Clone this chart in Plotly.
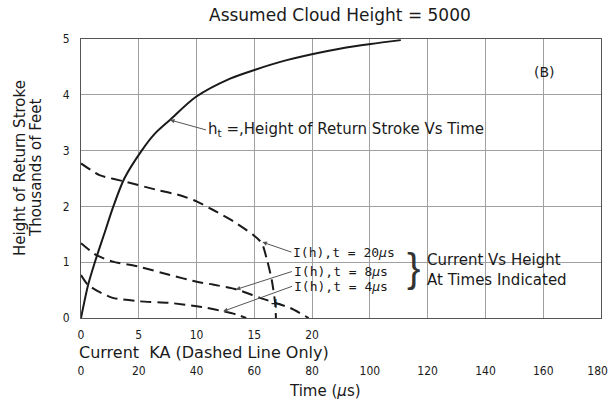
import plotly.graph_objects as go

# Solid curve: height of return stroke vs time
time_us = [0, 2.5, 4.8, 8, 11.2, 15, 21, 25.5, 30.8, 39.7, 51.6, 60.3, 69, 80.3, 90, 100.3, 110.7]
height_kft = [0, 0.6, 1.0, 1.5, 2.0, 2.5, 3.0, 3.3, 3.55, 3.96, 4.29, 4.45, 4.59, 4.73, 4.83, 4.91, 4.98]

# Dashed curves: current (KA) vs height at given times
cur_t20 = [0, 1.6, 3.9, 6.5, 8.55, 10, 11.4, 13.2, 14.9, 15.65, 16.1, 16.5, 16.8, 16.87]
h_t20 = [2.77, 2.56, 2.44, 2.3, 2.2, 2.09, 1.94, 1.73, 1.49, 1.34, 1.04, 0.69, 0.27, 0]
cur_t8 = [0, 1.3, 2.75, 5, 7.7, 10, 11.4, 13.5, 15.5, 18.1, 19.7]
h_t8 = [1.34, 1.13, 1.01, 0.92, 0.77, 0.65, 0.6, 0.51, 0.36, 0.18, 0]
cur_t4 = [0, 0.57, 1.45, 2.75, 5, 7.7, 10, 10.9, 12.3, 13.5, 14.3]
h_t4 = [0.77, 0.6, 0.48, 0.36, 0.3, 0.27, 0.21, 0.18, 0.12, 0.06, 0]

time_ticks = [0, 20, 40, 60, 80, 100, 120, 140, 160, 180]
time_tick_text = ["0", "20", "40", "60", "80", "100", "120", "140", "160", "180\u00a0\u00a0"]
current_ticks = [0, 5, 10, 15, 20]
height_ticks = [0, 1, 2, 3, 4, 5]

INK = "#1a1a1a"
GRID = "#a0a0a0"
FONT = "DejaVu Sans, Verdana, sans-serif"
NARROW = "Liberation Sans Narrow, DejaVu Sans Condensed, Liberation Sans, sans-serif"

fig = go.Figure()
fig.add_trace(go.Scatter(x=time_us, y=height_kft, mode="lines", line=dict(color=INK, width=2, shape="spline", smoothing=0.8),
                         xaxis="x", yaxis="y", showlegend=False, hoverinfo="skip"))
dash = "11px,6px"
for cx, hy in [(cur_t20, h_t20), (cur_t8, h_t8), (cur_t4, h_t4)]:
    fig.add_trace(go.Scatter(x=cx, y=hy, mode="lines", line=dict(color=INK, width=2, dash=dash, shape="spline", smoothing=0.6),
                             xaxis="x2", yaxis="y", showlegend=False, hoverinfo="skip"))

PW, PH, L, T = 520, 279, 81, 39


def px(x):
    return (x - L) / PW


def py(y):
    return (T + PH - y) / PH


anns = []
# title
anns.append(dict(text="Assumed Cloud Height = 5000", x=px(340), xref="paper", y=py(15), yref="paper",
                 showarrow=False, xanchor="center", yanchor="middle", font=dict(size=17, family=FONT, color=INK)))
# y title (two lines)
anns.append(dict(text="Height of Return Stroke", textangle=-90, xref="paper", x=px(20),
                 yref="paper", y=py(168), xanchor="center", yanchor="middle", showarrow=False,
                 font=dict(size=15, family=FONT, color=INK)))
anns.append(dict(text="Thousands of Feet", textangle=-90, xref="paper", x=px(36),
                 yref="paper", y=py(168), xanchor="center", yanchor="middle", showarrow=False,
                 font=dict(size=15, family=FONT, color=INK)))
# x titles
anns.append(dict(text="Current  KA (Dashed Line Only)", xref="paper", x=px(77), xanchor="left",
                 yref="paper", y=py(352), yanchor="middle", showarrow=False, font=dict(size=16, family=FONT, color=INK)))
anns.append(dict(text="Time (<i>μ</i>s)", xref="paper", x=px(325), xanchor="center",
                 yref="paper", y=py(391), yanchor="middle", showarrow=False, font=dict(size=15, family=FONT, color=INK)))
# (B)
anns.append(dict(text="(B)", xref="paper", x=px(544), yref="paper", y=py(72), showarrow=False,
                 xanchor="center", yanchor="middle", font=dict(size=14, family=FONT, color=INK)))
# h_t label with arrow
anns.append(dict(text="h<sub>t</sub> =,Height of Return Stroke Vs Time", x=30.8, y=3.55, xref="x", yref="y",
                 ax=36, ay=10, xanchor="left", yanchor="middle", showarrow=True, arrowhead=2, arrowsize=0.9,
                 arrowwidth=1, arrowcolor="#555", font=dict(size=15, family=FONT, color=INK)))
# I(h) labels
labels = [("I(h),t = 20<i>μ</i>s", 15.7, 1.36, 29, 10),
          ("I(h),t = 8<i>μ</i>s", 13.4, 0.51, 56, -18),
          ("I(h),t = 4<i>μ</i>s", 12.3, 0.12, 69, -25)]
for txt, cx, hy, axp, ayp in labels:
    anns.append(dict(text=txt, x=cx, y=hy, xref="x2", yref="y", ax=axp, ay=ayp, xanchor="left", yanchor="middle",
                     showarrow=True, arrowhead=2, arrowsize=0.9, arrowwidth=1, arrowcolor="#555",
                     font=dict(size=13, family="DejaVu Sans Mono, monospace", color=INK)))
# brace and group label
anns.append(dict(text="}", xref="paper", x=px(413), yref="paper", y=py(268), showarrow=False,
                 font=dict(size=40, family="Liberation Sans, sans-serif", color="#333"), xanchor="center", yanchor="middle"))
anns.append(dict(text="Current Vs Height<br>At Times Indicated", xref="paper", x=px(425), xanchor="left",
                 yref="paper", y=py(270), yanchor="middle", align="left", showarrow=False,
                 font=dict(size=15, family=FONT, color=INK)))
anns.append(dict(text="+", x=16.9, y=0.27, xref="x2", yref="y", showarrow=False,
                 font=dict(size=14, family=FONT, color=INK)))

fig.update_layout(
    width=609, height=407,
    margin=dict(l=L, r=609 - L - PW, t=T, b=407 - T - PH, autoexpand=False),
    plot_bgcolor="white", paper_bgcolor="white",
    annotations=anns,
    hovermode=False,
    xaxis=dict(range=[0, 180], tickvals=time_ticks, ticktext=time_tick_text, showgrid=True,
               gridcolor=GRID, gridwidth=1, zeroline=False, showline=True, linecolor="#555", linewidth=1,
               mirror=True, ticks="", ticklabelstandoff=42, automargin=False, ticklabeloverflow="allow",
               tickfont=dict(size=12, family=NARROW, color=INK)),
    xaxis2=dict(range=[0, 45], overlaying="x", anchor="y", side="bottom", tickvals=current_ticks,
                ticktext=[str(v) for v in current_ticks], showgrid=False, zeroline=False, showline=False,
                ticks="", ticklabelstandoff=8, automargin=False, tickfont=dict(size=12, family=NARROW, color=INK)),
    yaxis=dict(range=[0, 5], tickvals=height_ticks, showgrid=True, gridcolor=GRID, gridwidth=1, zeroline=False,
               showline=True, linecolor="#555", linewidth=1, mirror=True, ticks="", ticklabelstandoff=8,
               automargin=False, tickfont=dict(size=12, family=NARROW, color=INK)),
)

fig.write_html("out.html", config={"displayModeBar": False},
               post_script="document.body.style.margin='0';document.body.style.overflow='hidden';")
